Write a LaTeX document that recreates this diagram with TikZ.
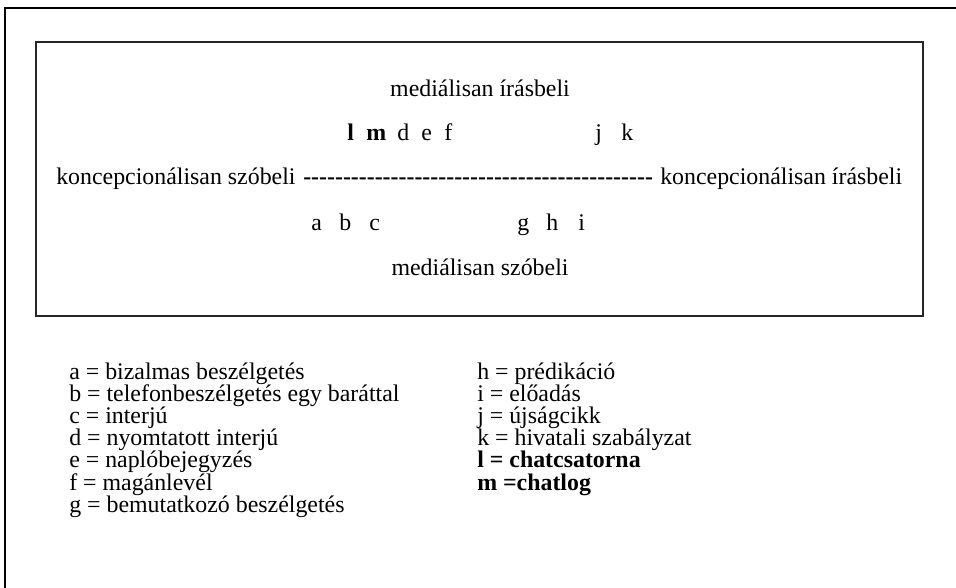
\documentclass[tikz,border=0pt]{standalone}
\usepackage{fontspec}
\setmainfont{Liberation Serif}
% single bold hyphen in its own box, so that runs of them stay hyphens
\newcommand\boldhy{\mbox{\textbf{-}}}
\newcommand\hyten{\boldhy\boldhy\boldhy\boldhy\boldhy\boldhy\boldhy\boldhy\boldhy\boldhy}
\begin{document}
\begin{tikzpicture}[x=0.75pt,y=-0.75pt,
  txt/.style={font=\fontsize{17.9pt}{21pt}\selectfont, inner sep=0pt, anchor=base west},
  ctxt/.style={txt, anchor=base},
  btxt/.style={txt, font=\fontsize{17.9pt}{21pt}\selectfont\bfseries},
  frame/.style={line width=1.5pt, line join=miter},
  panel/.style={line width=1pt, draw=black!85}]
\useasboundingbox (0,0) rectangle (956,588);
\begin{scope}
\clip (0,0) rectangle (956,588);
\draw[frame] (5,600) -- (5,7.7) -- (970,7.7);
\end{scope}
% scale panel
\draw[panel] (36,42) rectangle (923,316);
\node[ctxt] (mi) at (480,97) {mediálisan írásbeli};
\node[btxt] (l) at (347,141) {l};
\node[btxt] (m) at (366,141) {m};
\node[txt] (d) at (397,141) {d};
\node[txt] (e) at (421,141) {e};
\node[txt] (f) at (444,141) {f};
\node[txt] (j) at (595,141) {j};
\node[txt] (k) at (621,141) {k};
\node[txt] (ksz) at (56,185) {koncepcionálisan szóbeli};
\node[txt] (dash) at (303,185) {\hyten\hyten\hyten\hyten\boldhy\boldhy\boldhy\boldhy};
\node[txt] (kir) at (660,185) {koncepcionálisan írásbeli};
\node[txt] (a) at (311,230) {a};
\node[txt] (b) at (339,230) {b};
\node[txt] (c) at (369,230) {c};
\node[txt] (g) at (517,230) {g};
\node[txt] (h) at (546,230) {h};
\node[txt] (i) at (578,230) {i};
\node[ctxt] (msz) at (480,275) {mediálisan szóbeli};
% key, left column
\node[txt] (ka) at (69,379) {a = bizalmas beszélgetés};
\node[txt] (kb) at (69,401.2) {b = telefonbeszélgetés egy baráttal};
\node[txt] (kc) at (69,423.4) {c = interjú};
\node[txt] (kd) at (69,445.6) {d = nyomtatott interjú};
\node[txt] (ke) at (69,467.8) {e = naplóbejegyzés};
\node[txt] (kf) at (69,490) {f = magánlevél};
\node[txt] (kg) at (69,512.2) {g = bemutatkozó beszélgetés};
% key, right column
\node[txt] (kh) at (477,379) {h = prédikáció};
\node[txt] (ki) at (477,401.2) {i = előadás};
\node[txt] (kj) at (477,423.4) {j = újságcikk};
\node[txt] (kk) at (477,445.6) {k = hivatali szabályzat};
\node[btxt] (kl) at (477,467.8) {l = chatcsatorna};
\node[btxt] (km) at (477,490) {m =chatlog};
\end{tikzpicture}
\end{document}
